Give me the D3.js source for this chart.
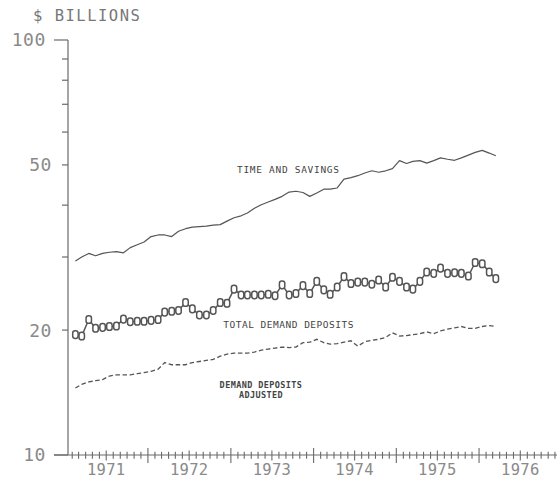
<!DOCTYPE html>
<html>
<head>
<meta charset="utf-8">
<script src="https://cdn.jsdelivr.net/npm/d3@7/dist/d3.min.js"></script>
<style>
  html, body { margin: 0; padding: 0; background: #fff; }
  svg { display: block; }
  text { font-family: "DejaVu Sans Mono", "Liberation Mono", monospace; }
</style>
</head>
<body>
<svg id="chart" width="557" height="479"></svg>
<script>
// Monthly averages, $ billions, Feb 1971 – Mar 1976
const firstMonth = "1971-02";

const timeAndSavings = [
  29.35, 30.0, 30.6, 30.2, 30.6, 30.8, 30.9, 30.7, 31.6, 32.1, 32.6, 33.6,
  33.9, 33.9, 33.6, 34.6, 35.1, 35.4, 35.5, 35.6, 35.8, 35.9, 36.6, 37.3,
  37.7, 38.3, 39.3, 40.1, 40.7, 41.3, 42.0, 43.0, 43.2, 42.9, 42.0, 42.8,
  43.7, 43.7, 44.0, 46.2, 46.6, 47.1, 47.8, 48.4, 48.0, 48.4, 49.0, 51.2,
  50.4, 51.0, 51.2, 50.5, 51.2, 52.0, 51.6, 51.3, 52.0, 52.8, 53.6, 54.2,
  53.4, 52.6
];

const totalDemandDeposits = [
  19.5, 19.35, 21.2, 20.2, 20.3, 20.4, 20.45, 21.25, 20.95, 21.0, 21.0, 21.1,
  21.2, 22.1, 22.2, 22.3, 23.3, 22.5, 21.75, 21.75, 22.3, 23.3, 23.2, 25.1,
  24.3, 24.3, 24.3, 24.3, 24.4, 24.2, 25.7, 24.3, 24.5, 25.6, 24.5, 26.2,
  25.0, 24.4, 25.4, 26.9, 25.9, 26.1, 26.1, 25.8, 26.4, 25.4, 26.8, 26.2,
  25.4, 25.1, 26.2, 27.6, 27.4, 28.2, 27.4, 27.5, 27.4, 27.0, 29.1, 28.9,
  27.6, 26.6
];

const demandDepositsAdjusted = [
  14.5, 14.8, 15.0, 15.1, 15.2, 15.5, 15.6, 15.6, 15.6, 15.7, 15.8, 15.9,
  16.1, 16.7, 16.5, 16.5, 16.5, 16.7, 16.8, 16.9, 17.0, 17.3, 17.5, 17.6,
  17.6, 17.6, 17.7, 17.9, 18.0, 18.1, 18.2, 18.15, 18.2, 18.65, 18.7, 19.0,
  18.65, 18.5, 18.55, 18.7, 18.85, 18.3, 18.75, 18.9, 19.0, 19.2, 19.7, 19.35,
  19.4, 19.5, 19.6, 19.8, 19.6, 19.9, 20.1, 20.25, 20.4, 20.2, 20.2, 20.4,
  20.5, 20.4
];

const yearLabels = ["1971", "1972", "1973", "1974", "1975", "1976"];
const yTicks = [10, 20, 30, 40, 50, 60, 70, 80, 90, 100];
const yTickLabels = [10, 20, 50, 100];

const svg = d3.select("#chart");
const W = 557;

const lineColor = "#555";
const axisColor = "#6a6a6a";
const labelColor = "#8a8a8a";

// scales
const x = d3.scaleUtc()
  .domain([Date.UTC(1971, 0, 1), Date.UTC(1977, 0, 1)])
  .range([65.2, 65.2 + 6 * 82.8]);
const y = d3.scaleLog().domain([10, 100]).range([455, 40]);

const axisX = 68;
const baseY = y(10);

// monthly dates at mid-month
const start = d3.utcParse("%Y-%m")(firstMonth);
const dates = d3.range(timeAndSavings.length).map(i =>
  d3.utcDay.offset(d3.utcMonth.offset(start, i), 14));

// ---- y axis ----
const gy = svg.append("g");
gy.append("line")
  .attr("x1", axisX).attr("x2", axisX)
  .attr("y1", y(100)).attr("y2", baseY)
  .attr("stroke", axisColor).attr("stroke-width", 1.2);
gy.selectAll("line.tick").data(yTicks).join("line")
  .attr("class", "tick")
  .attr("x1", d => (d === 10 || d === 100) ? 54 : 62)
  .attr("x2", axisX)
  .attr("y1", d => y(d)).attr("y2", d => y(d))
  .attr("stroke", axisColor).attr("stroke-width", 1.2);
gy.selectAll("text").data(yTickLabels).join("text")
  .attr("x", d => (d === 10 || d === 100) ? 46 : 52)
  .attr("y", d => y(d))
  .attr("dy", "0.36em")
  .attr("text-anchor", "end")
  .attr("font-size", 18)
  .attr("letter-spacing", 0.6)
  .attr("fill", labelColor)
  .text(d => d);

svg.append("text")
  .attr("x", 33).attr("y", 20.5)
  .attr("font-size", 15.5)
  .attr("letter-spacing", 1.5)
  .attr("fill", "#777")
  .text("$ BILLIONS");

// ---- x axis ----
const gx = svg.append("g");
gx.append("line")
  .attr("x1", 54).attr("x2", W)
  .attr("y1", baseY).attr("y2", baseY)
  .attr("stroke", axisColor).attr("stroke-width", 1.2);

const monthTicks = d3.utcMonth.range(Date.UTC(1971, 1, 1), Date.UTC(1977, 1, 1))
  .filter(d => x(d) <= W);
gx.selectAll("line.mt").data(monthTicks).join("line")
  .attr("class", "mt")
  .attr("x1", d => x(d)).attr("x2", d => x(d))
  .attr("y1", d => baseY - (d.getUTCMonth() === 0 ? 7 : d.getUTCMonth() === 6 ? 4.5 : 3.2))
  .attr("y2", d => baseY + (d.getUTCMonth() === 0 ? 8 : d.getUTCMonth() === 6 ? 5.5 : 3.8))
  .attr("stroke", axisColor).attr("stroke-width", 1.1);

gx.selectAll("text").data(yearLabels).join("text")
  .attr("x", d => x(Date.UTC(+d, 6, 1)))
  .attr("y", 475)
  .attr("text-anchor", "middle")
  .attr("font-size", 15.5)
  .attr("letter-spacing", 0.3)
  .attr("fill", labelColor)
  .text(d => d);

// ---- series ----
const line = d3.line().x((d, i) => x(dates[i])).y(d => y(d));

svg.append("path")
  .datum(timeAndSavings)
  .attr("d", line)
  .attr("fill", "none")
  .attr("stroke", lineColor)
  .attr("stroke-width", 1.2)
  .attr("stroke-linejoin", "round");

svg.append("path")
  .datum(demandDepositsAdjusted)
  .attr("d", line)
  .attr("fill", "none")
  .attr("stroke", lineColor)
  .attr("stroke-width", 1.3)
  .attr("stroke-dasharray", "4.5,2.6");

svg.append("path")
  .datum(totalDemandDeposits)
  .attr("d", line)
  .attr("fill", "none")
  .attr("stroke", lineColor)
  .attr("stroke-width", 1.5)
  .attr("stroke-linejoin", "round");

svg.append("g").selectAll("rect").data(totalDemandDeposits).join("rect")
  .attr("x", (d, i) => x(dates[i]) - 2.7)
  .attr("y", d => y(d) - 3.8)
  .attr("width", 5.4)
  .attr("height", 7.6)
  .attr("rx", 2.4)
  .attr("fill", "#fff")
  .attr("stroke", lineColor)
  .attr("stroke-width", 1.5);

// ---- series labels ----
const seriesLabel = (txt, xPos, yPos, size, ls, anchor, weight) =>
  svg.append("text")
    .attr("x", xPos).attr("y", yPos)
    .attr("font-size", size)
    .attr("letter-spacing", ls)
    .attr("text-anchor", anchor || "start")
    .attr("font-weight", weight || "normal")
    .attr("fill", "#444")
    .text(txt);

seriesLabel("TIME AND SAVINGS", 237, 172.7, 9.5, 0.7);
seriesLabel("TOTAL DEMAND DEPOSITS", 223.3, 328.4, 9.5, 0.5);
seriesLabel("DEMAND DEPOSITS", 261, 388, 8.5, 0.4, "middle", "bold");
seriesLabel("ADJUSTED", 261, 397.5, 8.5, 0.4, "middle", "bold");
</script>
</body>
</html>
